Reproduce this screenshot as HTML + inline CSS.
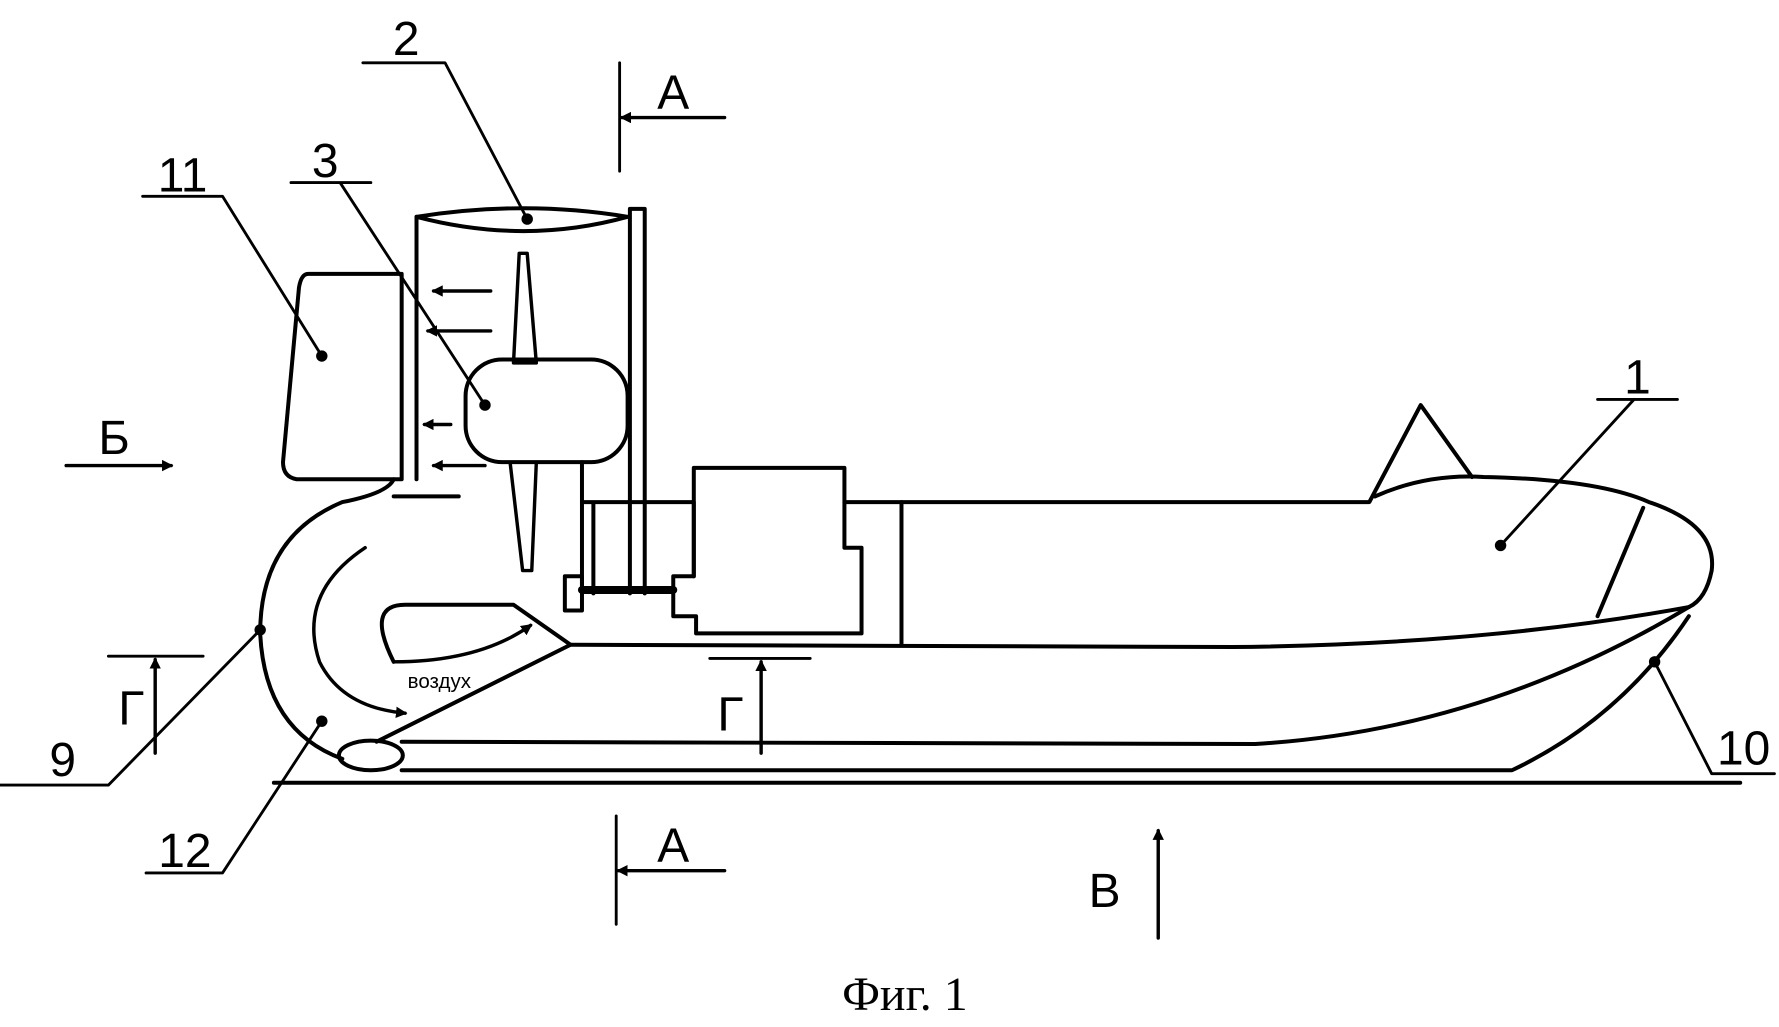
<!DOCTYPE html>
<html><head><meta charset="utf-8"><style>html,body{margin:0;padding:0;background:#fff}svg{display:block}</style></head><body>
<svg width="1779" height="1027" viewBox="0 0 1559 900" preserveAspectRatio="none" xmlns="http://www.w3.org/2000/svg">
<defs><marker id="ah" markerWidth="10" markerHeight="10" refX="8" refY="5" orient="auto" markerUnits="userSpaceOnUse"><path d="M0,0 L10,5 L0,10 z" fill="#000"/></marker></defs>
<g fill="none" stroke="#000" stroke-width="3.5" stroke-linejoin="round" stroke-linecap="round">
<path d="M365,190 L365,420"/>
<path d="M365,190 Q460,175 550,190 Q460,215 365,190"/>
<path d="M552,183 L552,520 M565,183 L565,520 M552,183 L565,183"/>
<path d="M455,222 L462,222 L470,318 L450,318 Z" stroke-width="3"/>
<path d="M447,405 L470,405 L466,500 L458,500 Z" stroke-width="3"/>
<rect x="408" y="315" width="142" height="90" rx="32"/>
<path d="M270,240 L352,240 L352,420 L260,420 Q248,418 248,405 L262,252 Q264,240 270,240"/>
<path d="M345,420 Q340,432 300,440 Q228,470 228,555 Q232,640 300,665"/>
<path d="M345,435 L402,435"/>
<ellipse cx="325" cy="662" rx="28" ry="13"/>
<path d="M345,580 Q320,530 355,530 L450,530 L500,565 L330,650"/>
<path d="M500,565 L1080,567 Q1300,565 1480,532"/>
<path d="M352,650 L1100,652 Q1300,640 1480,532"/>
<path d="M352,675 L1325,675 Q1420,630 1480,540"/>
<path d="M240,686 L1525,686"/>
<path d="M740,440 L1200,440 L1245,355 L1290,418"/>
<path d="M1205,435 Q1250,415 1300,418 Q1400,420 1445,440 Q1505,460 1500,500 Q1495,525 1480,532"/>
<path d="M1440,445 L1400,540"/>
<path d="M790,440 L790,565"/>
<path d="M608,410 L740,410 L740,480 L755,480 L755,555 L610,555 L610,540 L590,540 L590,505 L608,505 Z"/>
<path d="M510,440 L608,440 M510,405 L510,520 M520,440 L520,520 M608,440 L608,505"/>
<rect x="495" y="505" width="15" height="30"/>
<path d="M510,517 L590,517" stroke-width="7"/>
<g stroke-width="3" marker-end="url(#ah)">
<path d="M430,255 L380,255"/><path d="M430,290 L375,290"/><path d="M395,372 L372,372"/><path d="M425,408 L380,408"/>
<path d="M58,408 L150,408"/>
<path d="M635,103 L545,103"/><path d="M635,763 L542,763"/>
<path d="M136,660 L136,578"/><path d="M667,660 L667,580"/>
<path d="M1015,822 L1015,728"/>
<path d="M320,480 Q260,520 280,580 Q300,620 355,625"/>
<path d="M345,580 Q420,580 465,548"/>
</g>
<g stroke-width="2.5">
<path d="M543,55 L543,150 M540,715 L540,810 M95,575 L178,575 M622,577 L710,577"/>
<path d="M318,55 L390,55 L462,192"/>
<path d="M125,172 L195,172 L282,312"/>
<path d="M255,160 L325,160 M298,160 L425,355"/>
<path d="M0,688 L95,688 L228,552"/>
<path d="M128,765 L195,765 L282,632"/>
<path d="M1555,678 L1500,678 L1450,580"/>
<path d="M1400,350 L1470,350 M1432,350 L1315,478"/>
</g>
</g>
<g fill="#000">
<circle cx="462" cy="192" r="5"/><circle cx="282" cy="312" r="5"/><circle cx="425" cy="355" r="5"/><circle cx="1315" cy="478" r="5"/><circle cx="228" cy="552" r="5"/><circle cx="282" cy="632" r="5"/><circle cx="1450" cy="580" r="5"/>
</g>
<g font-family="Liberation Sans, DejaVu Sans, sans-serif" font-size="42" fill="#000" text-anchor="middle">
<text x="356" y="48">2</text><text x="590" y="95">A</text><text x="160" y="168">11</text><text x="285" y="155">3</text>
<text x="100" y="398">Б</text><text x="115" y="635">Г</text><text x="640" y="640">Г</text>
<text x="55" y="680">9</text><text x="162" y="760">12</text><text x="1528" y="670">10</text><text x="1435" y="345">1</text>
<text x="590" y="755">A</text><text x="968" y="795">В</text>
<text x="385" y="603" font-size="18">воздух</text>
</g>
<text x="793" y="885" font-family="Liberation Serif, DejaVu Serif, serif" font-size="42" text-anchor="middle">Фиг. 1</text>
</svg>
</body></html>
